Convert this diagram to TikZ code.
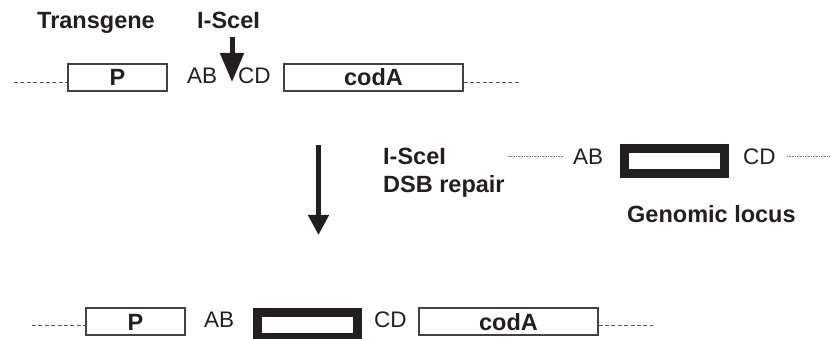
\documentclass[tikz,border=0pt]{standalone}
\usepackage{fontspec}
\setmainfont{Liberation Sans}
\usetikzlibrary{arrows.meta}
\definecolor{ink}{HTML}{231F20}
\begin{document}
\begin{tikzpicture}[x=1pt,y=-1pt,
  lbl/.style={font=\fontsize{23.5}{26}\selectfont\bfseries, inner sep=0pt, anchor=base west, text=ink},
  seq/.style={font=\fontsize{22.5}{25}\selectfont, inner sep=0pt, anchor=base west, text=ink},
  genebox/.style={draw=ink!85, line width=1.1pt, fill=white, inner sep=0pt, minimum height=27pt,
    font=\fontsize{23.5}{26}\selectfont\bfseries, text=ink, text height=17pt, text depth=0pt},
  insert/.style={draw=ink, line width=9pt, fill=white, inner sep=0pt, minimum width=100pt, minimum height=25pt},
  dashline/.style={draw=ink!75, line width=0.9pt, dash pattern=on 4pt off 2.4pt},
  dotline/.style={draw=ink!60, line width=0.6pt, dash pattern=on 0.8pt off 0.8pt},
  bigarrow/.style={draw=ink, line width=#1}]
\useasboundingbox (0,0) rectangle (830,339);

% ---------------- top row: transgene ----------------
\node[lbl] (tg) at (37,29) {Transgene};
\node[lbl] (sce1) at (197,29) {I-SceI};
\node[genebox, minimum width=99pt] (p1) at (117.5,77.5) {P};
\node[seq] (ab1) at (187,84) {AB};
\node[seq] (cd1) at (238,84) {CD};
\node[genebox, minimum width=179pt] (c1) at (373.5,77.5) {codA};
\coordinate (dl1) at (14,82);
\coordinate (dr1) at (519,82);
\draw[dashline] (dl1) -- (dl1 -| p1.west);
\draw[dashline] (dr1 -| c1.east) -- (dr1);
\coordinate (cutA) at (232,37);
\coordinate (cutB) at (232,82);
\draw[bigarrow=5pt, -{Triangle[length=29pt,width=23pt]}, fill=ink] (cutA) -- (cutB);

% ---------------- middle ----------------
\coordinate (mA) at (318.5,145);
\coordinate (mB) at (318.5,235);
\draw[bigarrow=4.5pt, -{Triangle[length=20pt,width=20pt]}, fill=ink] (mA) -- (mB);
\node[lbl] (sce2) at (383,165) {I-SceI};
\node[lbl] (dsb) at (383,193) {DSB repair};
\node[seq] (ab2) at (573,165) {AB};
\node[insert] (ins2) at (674.5,161) {};
\node[seq] (cd2) at (743,165) {CD};
\node[lbl] (gl) at (627,223) {Genomic locus};
\coordinate (gl1) at (508,156);
\coordinate (gr1) at (830,156);
\draw[dotline] (gl1) -- (gl1 -| {563,0});
\draw[dotline] (gr1 -| {787,0}) -- (gr1);

% ---------------- bottom row: product ----------------
\node[genebox, minimum width=99pt] (p3) at (135.5,321.5) {P};
\node[seq] (ab3) at (204,327) {AB};
\node[insert] (ins3) at (307,325) {};
\node[seq] (cd3) at (374,327) {CD};
\node[genebox, minimum width=179pt] (c3) at (508.5,321.5) {codA};
\coordinate (dl3) at (32,325);
\coordinate (dr3) at (653,325);
\draw[dashline] (dl3) -- (dl3 -| p3.west);
\draw[dashline] (dr3 -| c3.east) -- (dr3);
\end{tikzpicture}
\end{document}
